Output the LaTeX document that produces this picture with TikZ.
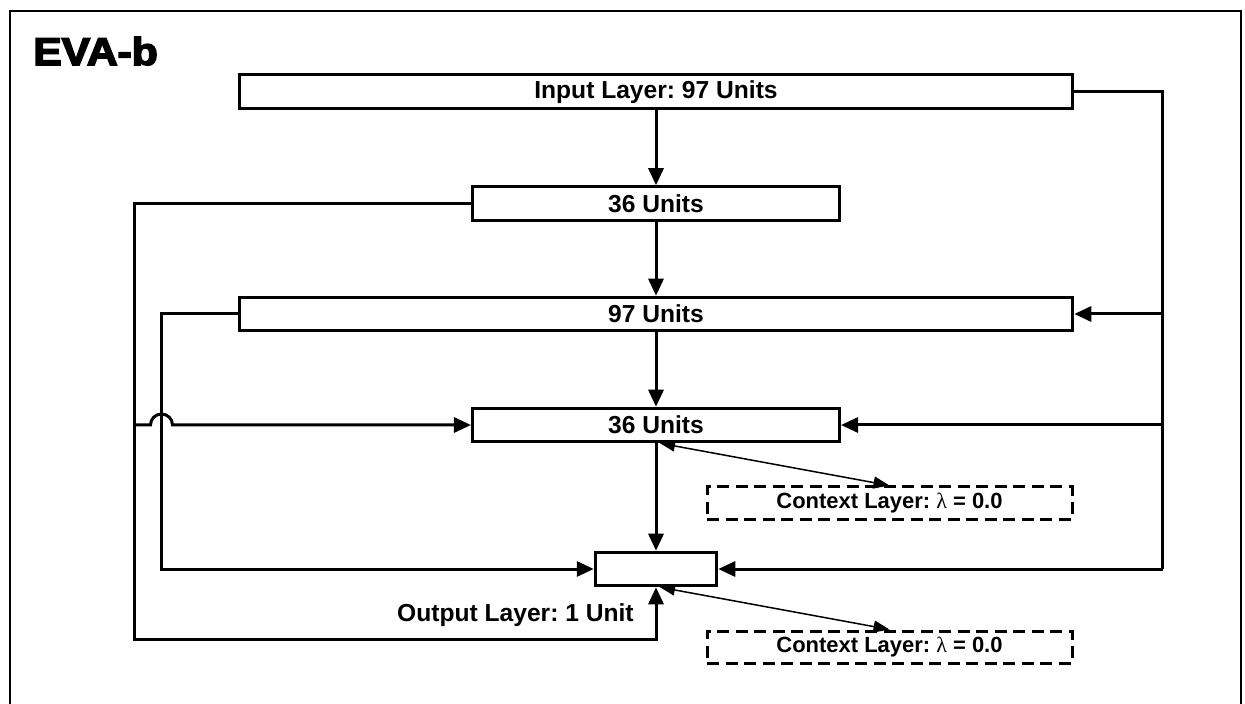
\documentclass[tikz,border=0pt]{standalone}
\usepackage{fontspec}
\usepackage{graphicx}
\setmainfont{Liberation Sans}
\newfontfamily\titlefont{Liberation Sans}[BoldFeatures={FakeBold=4}]
\newfontfamily\grkfont{Liberation Serif}
\usepackage{tikz}
\usetikzlibrary{positioning,arrows.meta,calc}
\frenchspacing

\begin{document}
\begin{tikzpicture}[
		x=0.2mm, y=-0.2mm,
		layer/.style={draw, line width=0.6mm, minimum height=6.7mm, inner sep=0pt,
			font=\fontsize{14}{16}\selectfont\bfseries},
		ctxbox/.style={draw, line width=0.6mm, dash pattern=on 2.4mm off 1.3mm,
			minimum width=73mm, minimum height=6.4mm, inner sep=0pt,
			font=\fontsize{12.5}{14}\selectfont\bfseries},
		wire/.style={line width=0.6mm},
		arr/.style={-{Triangle[length=3.4mm,width=3mm]}, line width=0.6mm},
		ctxarr/.style={{Triangle[length=3mm,width=2.2mm]}-{Triangle[length=3.2mm,width=2.4mm]}, line width=0.3mm}
		]
		\useasboundingbox (0,0) rectangle (1245,704);
		\draw[line width=0.4mm] (10,704) -- (10,11.5) -- (1240.5,11.5) -- (1240.5,704);
		\node[anchor=base west, inner sep=0pt] (title) at (33,65)
		{\scalebox{1.1}[1]{\fontsize{22}{24}\selectfont\titlefont\bfseries EVA-b}};
		% layers
		\node[layer, minimum width=166.7mm] (in) at (656,91.7) {Input Layer: 97 Units};
		\node[layer, minimum width=73.4mm] (h1) at (656,203.5) {36 Units};
		\node[layer, minimum width=166.7mm] (h2) at (656,314) {97 Units};
		\node[layer, minimum width=73.4mm] (h3) at (656,425) {36 Units};
		\node[layer, minimum width=24.3mm] (out) at (656,569) {};
		\node[anchor=base east, inner sep=0pt, font=\fontsize{14}{16}\selectfont\bfseries]
		(outlbl) at (634,621.5) {Output Layer: 1 Unit};
		\node[ctxbox] (ctx1) at (889.5,503) {Context Layer: {\mdseries\grkfont λ} = 0.0};
		\node[ctxbox] (ctx2) at (889.5,647) {Context Layer: {\mdseries\grkfont λ} = 0.0};
		% bus lines
		\coordinate (lx) at (134,0);
		\coordinate (ix) at (161.5,0);
		\coordinate (rx) at (1162.5,0);
		\coordinate (bot) at (0,639);
		% feed forward
		\draw[arr] (in) -- (h1);
		\draw[arr] (h1) -- (h2);
		\draw[arr] (h2) -- (h3);
		\draw[arr] (h3) -- (out);
		% right side
		\draw[wire] (in.east) -| (rx |- out.east);
		\draw[arr] (rx |- h2.east) -- (h2.east);
		\draw[arr] (rx |- h3.east) -- (h3.east);
		\draw[arr] (rx |- out.east) -- (out.east);
		% left side
		\draw[arr] (h2.west) -| (ix |- out.west) -- (out.west);
		\draw[arr] (h1.west) -| (lx |- bot) -| (out.south);
		\draw[arr] (lx |- h3.west) -- ($(ix |- h3.west)+(-11,0)$)
		arc[start angle=180, end angle=0, radius=2.2mm] -- (h3.west);
		% context
		\draw[ctxarr] ([xshift=0.8mm]h3.south) -- (ctx1.north);
		\draw[ctxarr] ([xshift=0.8mm]out.south) -- (ctx2.north);
\end{tikzpicture}
\end{document}
